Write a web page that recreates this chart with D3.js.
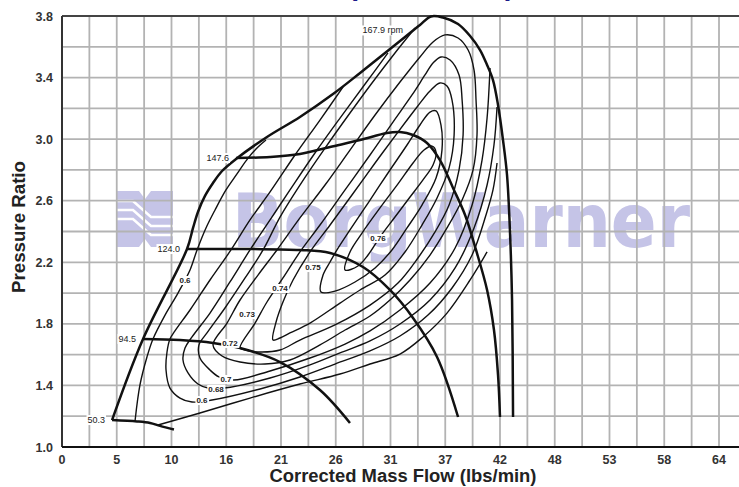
<!DOCTYPE html>
<html lang="en">
<head>
<meta charset="UTF-8">
<title>Compressor Map</title>
<script src="https://d3js.org/d3.v7.min.js"></script>
<style>
  body { margin: 0; background: white; font-family: "Liberation Sans", Arial, sans-serif; }
  svg { display: block; }
</style>
</head>
<body>
<svg width="739" height="487"></svg>
<script>
// axis tick labels (evenly spaced columns in the original chart)
const flowTicks = [0, 5, 10, 16, 21, 26, 31, 37, 42, 48, 53, 58, 64];
const prTicks = [1.0, 1.4, 1.8, 2.2, 2.6, 3.0, 3.4, 3.8];

// surge line [flow lbs/min, pressure ratio]
const surge = [[4.57,1.175],[7.40,1.702],[11.70,2.286],[12.36,2.423],[12.90,2.527],[13.67,2.631],[14.55,2.715],
  [15.54,2.793],[16.89,2.871],[19.72,3.014],[22.73,3.144],[25.75,3.293],[28.22,3.430],[30.50,3.560],[32.59,3.664],
  [34.23,3.742],[35.44,3.797]];

// speed lines (krpm)
const speed50 = [[4.57,1.175],[6.85,1.166],[8.04,1.156],[8.95,1.137],[10.27,1.114]];
const speed94 = [[7.40,1.702],[10.93,1.695],[14.55,1.676],[17.26,1.643],[20.91,1.552],[24.56,1.370],[27.30,1.156]];
const speed124 = [[11.70,2.286],[18.17,2.286],[22.73,2.280],[25.48,2.260],[28.49,2.169],[30.95,2.020],[33.47,1.838],[36.10,1.585],[38.17,1.195]];
const speed147 = [[16.89,2.877],[20.0,2.884],[22.73,2.903],[25.48,2.949],[28.22,2.994],[30.68,3.040],[32.04,3.046],[33.47,3.027],
  [35.00,2.975],[36.42,2.864],[37.71,2.683],[38.81,2.507],[39.81,2.280],[40.82,2.020],[41.45,1.760],[41.82,1.468],[42.0,1.195]];
const speed167 = [[35.44,3.797],[36.75,3.790],[38.17,3.748],[39.27,3.670],[40.18,3.579],[40.82,3.482],[41.36,3.384],[41.82,3.222],
  [42.33,2.994],[42.77,2.767],[43.10,2.390],[43.32,1.955],[43.43,1.195]];
const speedNames = ["50.3", "94.5", "124.0", "147.6", "167.9 rpm"];

// efficiency contours
const eff60Upper = [[6.67,1.169],[7.12,1.403],[7.76,1.585],[8.31,1.702],[9.41,1.857],[10.71,2.000],[12.03,2.150],[12.80,2.280],
  [13.78,2.423],[14.77,2.540],[15.97,2.670],[16.98,2.774],[17.99,2.877],[18.90,2.949],[19.63,2.994]];
const eff60Lower = [[8.77,1.143],[13.12,1.221],[18.17,1.318],[22.73,1.409],[26.39,1.474],[29.13,1.539],[32.04,1.604],[34.56,1.715],
  [37.16,1.870],[39.27,2.085],[40.82,2.267]];
const eff60Inner = [[26.67,3.339],[24.56,3.124],[22.28,2.897],[20.0,2.657],[18.17,2.475],[16.43,2.280],[14.22,2.085],[12.03,1.890],
  [10.38,1.754],[9.86,1.702],[9.59,1.617],[9.50,1.500],[9.86,1.383],[10.93,1.318],[12.25,1.292],[14.44,1.305],[19.09,1.377],
  [22.73,1.455],[25.93,1.539],[29.13,1.624],[32.04,1.721],[35.11,1.857],[37.62,2.033],[39.45,2.247],[40.72,2.507],[41.36,2.670],[41.73,2.845]];
const eff68 = [[30.77,3.560],[28.68,3.358],[26.39,3.137],[24.10,2.910],[21.82,2.670],[20.0,2.475],[18.17,2.280],[16.34,2.072],
  [14.22,1.870],[12.25,1.715],[11.48,1.643],[11.26,1.565],[11.81,1.481],[12.90,1.409],[14.0,1.383],[15.76,1.383],[20.0,1.448],
  [23.65,1.533],[26.39,1.611],[29.13,1.689],[32.04,1.799],[35.33,1.955],[37.90,2.163],[39.63,2.423],[40.82,2.702],[41.45,2.962],[41.73,3.209]];
const eff70 = [[33.69,3.722],[31.49,3.560],[29.31,3.365],[27.30,3.170],[25.02,2.942],[22.73,2.702],[20.91,2.494],[19.36,2.280],
  [17.72,2.098],[15.86,1.903],[13.89,1.741],[13.01,1.663],[13.12,1.578],[14.22,1.500],[15.21,1.455],[16.71,1.435],[20.0,1.494],
  [23.65,1.578],[26.85,1.669],[29.13,1.754],[32.04,1.890],[35.33,2.065],[37.90,2.293],[39.45,2.572],[40.36,2.864],[40.82,3.137],[41.09,3.462]];
const eff72 = [[14.55,1.663],[16.07,1.805],[17.26,1.955],[18.90,2.117],[20.63,2.280],[22.73,2.488],[25.02,2.702],[27.30,2.929],
  [29.59,3.157],[32.04,3.371],[34.23,3.534],[35.66,3.631],[36.97,3.677],[38.17,3.657],[39.09,3.579],[39.63,3.449],[39.81,3.254],
  [39.90,3.027],[39.54,2.800],[38.54,2.605],[37.16,2.423],[35.33,2.247],[33.14,2.085],[30.95,1.955],[29.13,1.851],[26.85,1.760],
  [24.56,1.663],[21.82,1.565],[19.54,1.539],[17.26,1.552],[15.54,1.591]];
const eff73 = [[17.26,1.643],[18.63,1.805],[19.72,1.942],[21.18,2.098],[22.73,2.267],[24.56,2.442],[26.85,2.670],[29.13,2.897],
  [31.27,3.111],[33.36,3.287],[34.78,3.417],[35.66,3.495],[36.53,3.534],[37.44,3.514],[38.26,3.417],[38.54,3.254],[38.63,3.027],
  [38.26,2.800],[37.35,2.572],[35.88,2.397],[34.01,2.228],[31.82,2.065],[29.13,1.922],[25.93,1.793],[22.73,1.695],[20.91,1.630],
  [19.09,1.617],[17.72,1.630]];
const eff74 = [[20.27,1.695],[20.55,1.812],[21.18,1.942],[22.10,2.085],[23.65,2.267],[25.48,2.442],[27.48,2.637],[29.59,2.845],
  [31.82,3.046],[33.91,3.209],[35.33,3.313],[36.42,3.365],[37.16,3.345],[37.62,3.254],[37.81,3.027],[37.35,2.813],[36.10,2.618],
  [34.45,2.442],[32.59,2.267],[30.50,2.117],[28.22,2.020],[26.39,1.935],[23.65,1.805],[21.82,1.741],[20.91,1.708]];
const eff75 = [[24.65,2.007],[24.84,2.117],[25.48,2.202],[26.11,2.280],[27.30,2.410],[28.95,2.585],[30.77,2.780],[32.81,2.962],
  [34.23,3.092],[35.33,3.176],[35.99,3.183],[36.53,3.092],[36.64,2.929],[35.99,2.748],[34.45,2.572],[32.81,2.423],[31.16,2.280],
  [29.59,2.163],[27.76,2.072],[25.93,2.013]];
const eff76 = [[26.85,2.150],[27.30,2.267],[28.40,2.390],[30.04,2.553],[31.82,2.709],[33.47,2.845],[34.67,2.929],[35.55,2.955],
  [35.99,2.916],[35.66,2.832],[34.56,2.735],[33.14,2.624],[31.49,2.494],[30.04,2.364],[28.95,2.247],[28.03,2.176]];

// efficiency label texts and where they sit
const effLabelText = ["0.6", "0.6", "0.68", "0.7", "0.72", "0.73", "0.74", "0.75", "0.76"];
const effLabelAt = [[11.48,2.085],[13.34,1.305],[14.88,1.377],[15.97,1.442],[16.34,1.676],[17.90,1.864],[20.91,2.033],[23.92,2.169],[29.86,2.358]];

const svg = d3.select("svg");
const width = +svg.attr("width");
const height = +svg.attr("height");
const margin = { top: 16, left: 62, bottom: 40 };
const colW = 54.75;
const plotH = height - margin.top - margin.bottom;

const x = d3.scaleLinear().domain(flowTicks).range(flowTicks.map((d, i) => margin.left + i * colW));
const y = d3.scaleLinear().domain([1.0, 3.8]).range([margin.top + plotH, margin.top]);

// title, mostly cropped off the top in the reference
svg.append("text").attr("x", 288).attr("y", -5)
  .style("font-size", "28.5px").style("font-weight", "bold").attr("fill", "#1b1b8a")
  .text("Compressor Map");

// watermark
const wm = svg.append("g").attr("fill", "#c5c4e7");
const logo = wm.append("g").attr("transform", "translate(117,191)");
logo.append("path").attr("d", "M0,0 H22 L28,8 L34,0 H56 V56 H34 L28,48 L22,56 H0 Z");
[10, 19, 28].forEach(o => {
  logo.append("path").attr("d", `M0,${o} H16 L34,${o + 16} H56`)
    .attr("fill", "none").attr("stroke", "white").attr("stroke-width", 2.6);
});
wm.append("text").attr("x", 232).attr("y", 247)
  .attr("textLength", 458).attr("lengthAdjust", "spacingAndGlyphs")
  .style("font-family", "'DejaVu Sans', sans-serif").style("font-weight", "bold").style("font-size", "75px")
  .text("BorgWarner");

// grid
const grid = svg.append("g").attr("stroke", "#b3b3b3").attr("stroke-width", 1.8);
d3.range(1, 25).forEach(k => {
  const gx = margin.left + k * colW / 2;
  if (gx < width) grid.append("line").attr("x1", gx).attr("x2", gx).attr("y1", margin.top).attr("y2", margin.top + plotH);
});
d3.range(1.2, 3.79, 0.2).forEach(v => {
  grid.append("line").attr("x1", margin.left).attr("x2", width).attr("y1", y(v)).attr("y2", y(v));
});

// frame
svg.append("line").attr("x1", margin.left).attr("x2", width).attr("y1", margin.top).attr("y2", margin.top)
  .attr("stroke", "#444").attr("stroke-width", 2);
svg.append("line").attr("x1", margin.left).attr("x2", margin.left).attr("y1", margin.top).attr("y2", margin.top + plotH)
  .attr("stroke", "#333").attr("stroke-width", 2);
svg.append("line").attr("x1", margin.left).attr("x2", width).attr("y1", margin.top + plotH).attr("y2", margin.top + plotH)
  .attr("stroke", "#111").attr("stroke-width", 2);

// tick labels
svg.append("g").selectAll("text").data(flowTicks).join("text")
  .attr("x", d => x(d)).attr("y", margin.top + plotH + 17)
  .attr("text-anchor", "middle").attr("fill", "#333")
  .style("font-size", "12.5px").style("font-weight", "bold")
  .text(d => d);
svg.append("g").selectAll("text").data(prTicks).join("text")
  .attr("x", 53).attr("y", d => y(d) + 4.5)
  .attr("text-anchor", "end").attr("fill", "#333")
  .style("font-size", "12.5px").style("font-weight", "bold")
  .text(d => d.toFixed(1));

// axis titles
svg.append("text").attr("x", 403).attr("y", 482).attr("text-anchor", "middle")
  .attr("textLength", 267).attr("lengthAdjust", "spacingAndGlyphs")
  .style("font-size", "18px").style("font-weight", "bold").attr("fill", "#222")
  .text("Corrected Mass Flow (lbs/min)");
svg.append("text").attr("transform", "translate(25,227) rotate(-90)").attr("text-anchor", "middle")
  .attr("textLength", 132).attr("lengthAdjust", "spacingAndGlyphs")
  .style("font-size", "18px").style("font-weight", "bold").attr("fill", "#222")
  .text("Pressure Ratio");

// curves
const open = d3.line().x(d => x(d[0])).y(d => y(d[1])).curve(d3.curveCatmullRom.alpha(0.5));
const loop = d3.line().x(d => x(d[0])).y(d => y(d[1])).curve(d3.curveCatmullRomClosed.alpha(0.5));

const effOpen = [eff60Upper, eff60Lower, eff60Inner, eff68, eff70];
const effClosed = [eff72, eff73, eff74, eff75, eff76];
const thin = svg.append("g").attr("fill", "none").attr("stroke", "#111").attr("stroke-width", 1.4);
effOpen.forEach(c => thin.append("path").attr("d", open(c)));
effClosed.forEach(c => thin.append("path").attr("d", loop(c)));

const thick = svg.append("g").attr("fill", "none").attr("stroke", "#111").attr("stroke-width", 2.5)
  .attr("stroke-linejoin", "round");
[speed50, speed94, speed124, speed147].forEach(c => thick.append("path").attr("d", open(c)));
thick.append("path").attr("d", open(surge.concat(speed167.slice(1))));

// labels with white boxes
function boxed(txt, px, py, size, weight, anchor) {
  const g = svg.append("g");
  const t = g.append("text").attr("x", px).attr("y", py).attr("text-anchor", anchor)
    .attr("fill", "#222").style("font-size", size + "px").style("font-weight", weight).text(txt);
  const bb = t.node().getBBox();
  g.insert("rect", "text").attr("x", bb.x - 1).attr("y", bb.y).attr("width", bb.width + 2).attr("height", bb.height)
    .attr("fill", "white");
}
effLabelText.forEach((t, i) => boxed(t, x(effLabelAt[i][0]), y(effLabelAt[i][1]) + 3, 8, "bold", "middle"));

const speedStarts = [speed50, speed94, speed124, speed147].map(c => c[0]);
speedStarts.forEach((p, i) => boxed(speedNames[i], x(p[0]) - 7, y(p[1]) + 3, 9, "normal", "end"));
const top167 = speed167[0];
boxed(speedNames[4], x(top167[0]) - 28, y(top167[1]) + 17, 9, "normal", "end");
</script>
</body>
</html>
